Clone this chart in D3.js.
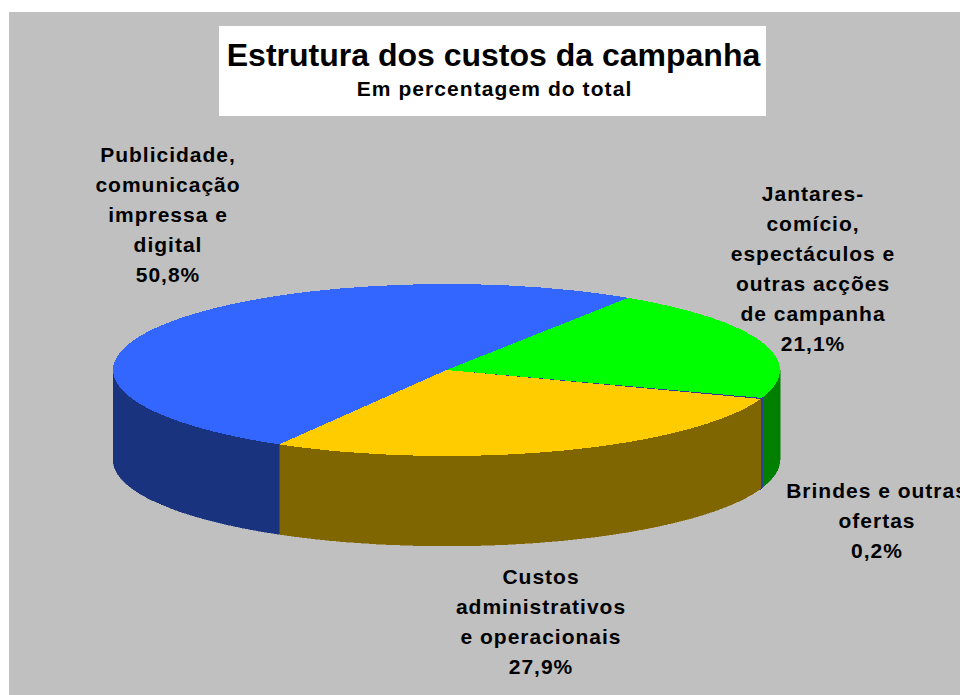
<!DOCTYPE html>
<html>
<head>
<meta charset="utf-8">
<script src="https://cdn.jsdelivr.net/npm/d3@7"></script>
<style>
html, body { margin: 0; padding: 0; background: #fff; }
svg { display: block; }
text { font-family: "Liberation Sans", Arial, sans-serif; font-weight: bold; fill: #000; }
</style>
</head>
<body>
<svg id="chart" width="960" height="695"></svg>
<script>
var categories = ["Publicidade", "Jantares", "Brindes", "Custos"];
var values = [50.8, 21.1, 0.2, 27.9];
var topColors = ["#3366ff", "#00ff00", "#333399", "#ffcc00"];
var sideColors = ["#19337f", "#007f00", "#2a3f9e", "#7f6600"];
var labelLines = [
	["Publicidade,", "comunicação", "impressa e", "digital", "50,8%"],
	["Jantares-", "comício,", "espectáculos e", "outras acções", "de campanha", "21,1%"],
	["Brindes e outras", "ofertas", "0,2%"],
	["Custos", "administrativos", "e operacionais", "27,9%"]
];
var labelPos = [[168, 155], [813, 194], [877, 491], [541, 577]];

var svg = d3.select("#chart");
var cx = 446.5, cy = 370, rx = 333.5, ry = 86, depth = 90;
var startDeg = 33;

svg.append("rect").attr("x", 9).attr("y", 12).attr("width", 951).attr("height", 683).attr("fill", "#c0c0c0");

var pie = d3.pie().sort(null).value(function (d) { return d; })
	.startAngle(startDeg * Math.PI / 180)
	.endAngle((startDeg + 360) * Math.PI / 180);
// clockwise from the blue/green edge
var clockwise = [1, 2, 3, 0];
var arcs = pie(clockwise.map(function (i) { return values[i]; }));
arcs.forEach(function (a, k) { a.idx = clockwise[k]; });

function ex(a) { return cx + rx * Math.sin(a); }
function ey(a) { return cy - ry * Math.cos(a); }

// side walls, only the front half of the ellipse shows
function wall(a) {
	var s = Math.max(a.startAngle, Math.PI / 2), e = Math.min(a.endAngle, 3 * Math.PI / 2);
	if (s >= e) return null;
	return "M" + ex(s) + "," + ey(s) +
		"A" + rx + "," + ry + " 0 0 1 " + ex(e) + "," + ey(e) +
		"L" + ex(e) + "," + (ey(e) + depth) +
		"A" + rx + "," + ry + " 0 0 0 " + ex(s) + "," + (ey(s) + depth) + "Z";
}

arcs.forEach(function (a) {
	var d = wall(a);
	if (d) svg.append("path").attr("d", d)
		.attr("fill", sideColors[a.idx])
		.attr("stroke", sideColors[a.idx])
		.attr("stroke-width", a.idx == 2 ? 1.5 : 0.5)
		.attr("shape-rendering", "crispEdges");
});

var arcGen = d3.arc().innerRadius(0).outerRadius(rx);
svg.append("g")
	.attr("transform", "translate(" + cx + "," + cy + ") scale(1," + (ry / rx) + ")")
	.selectAll("path").data(arcs).enter().append("path")
	.attr("d", arcGen)
	.attr("fill", function (d) { return topColors[d.idx]; })
	.attr("shape-rendering", "crispEdges");

// title box
svg.append("rect").attr("x", 219).attr("y", 26).attr("width", 547).attr("height", 90).attr("fill", "#fff");
svg.append("text").attr("x", 493.5).attr("y", 66).attr("text-anchor", "middle").attr("font-size", 32).text("Estrutura dos custos da campanha");
svg.append("text").attr("x", 494.5).attr("y", 96).attr("text-anchor", "middle").attr("font-size", 21).attr("letter-spacing", 1.08).text("Em percentagem do total");

labelLines.forEach(function (lines, i) {
	var t = svg.append("text").attr("text-anchor", "middle").attr("font-size", 21).attr("letter-spacing", 1);
	lines.forEach(function (l, j) {
		t.append("tspan").attr("x", labelPos[i][0]).attr("y", labelPos[i][1] + 7 + j * 30).text(l);
	});
});
</script>
</body>
</html>
